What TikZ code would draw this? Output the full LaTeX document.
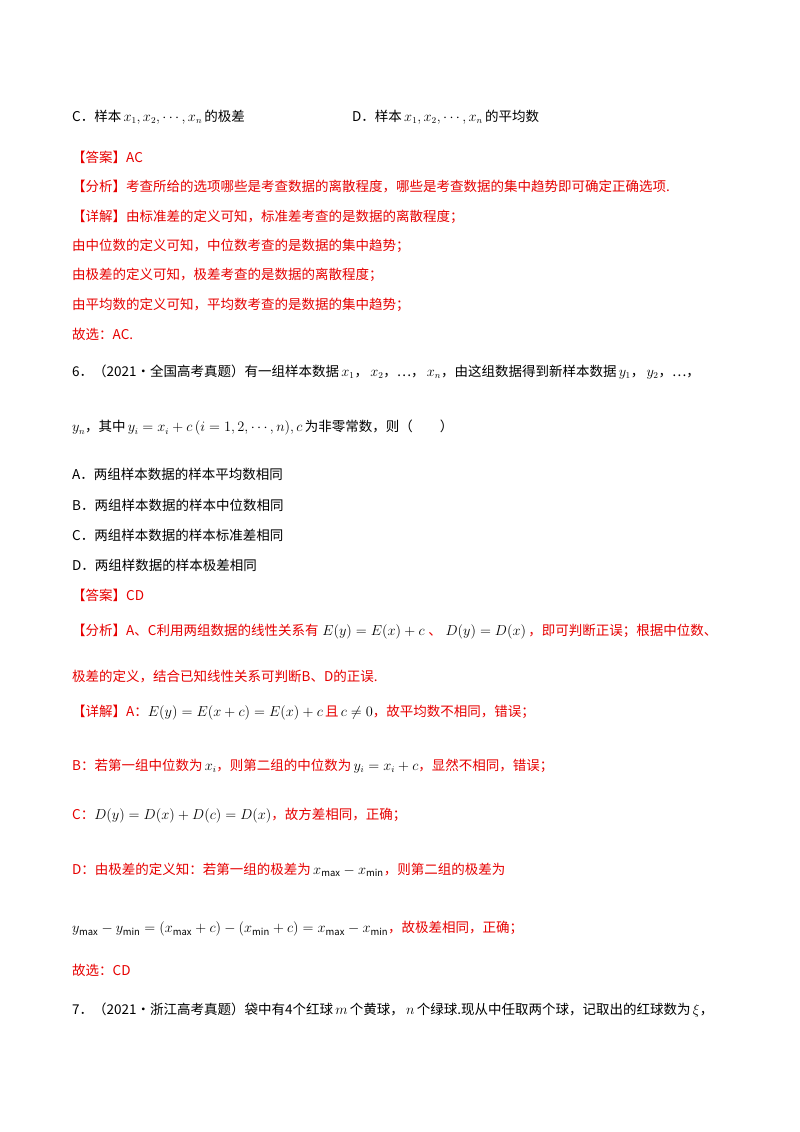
\documentclass[tikz,border=0pt]{standalone}
\usepackage{fontspec}
\setmainfont{Noto Sans CJK SC}
\definecolor{ansred}{RGB}{230,0,0}
\begin{document}
\begin{tikzpicture}[x=1pt,y=-1pt,
  ln/.style={anchor=west,inner sep=0pt,font=\fontsize{13.5}{16}\selectfont},
  rl/.style={ln,text=ansred}]
\useasboundingbox (0,0) rectangle (800,1132);
\node[ln] (c) at (72,117) {C．样本\,$x_1,x_2,\cdots,x_n$\,的极差};
\node[ln] (d) at (352,117) {D．样本\,$x_1,x_2,\cdots,x_n$\,的平均数};
\node[rl] (l1) at (72,157) {【答案】AC};
\node[rl] (l2) at (72,187) {【分析】考查所给的选项哪些是考查数据的离散程度，哪些是考查数据的集中趋势即可确定正确选项.};
\node[rl] (l3) at (72,217) {【详解】由标准差的定义可知，标准差考查的是数据的离散程度；};
\node[rl] (l4) at (72,246) {由中位数的定义可知，中位数考查的是数据的集中趋势；};
\node[rl] (l5) at (72,275) {由极差的定义可知，极差考查的是数据的离散程度；};
\node[rl] (l6) at (72,305) {由平均数的定义可知，平均数考查的是数据的集中趋势；};
\node[rl] (l7) at (72,334) {故选：AC.};
\node[ln] (q1) at (72,372) {6．（2021·全国高考真题）有一组样本数据\,$x_1$，\,$x_2$，…，\,$x_n$，由这组数据得到新样本数据\,$y_1$，\,$y_2$，…，};
\node[ln] (q2) at (72,428) {$y_n$，其中\,$y_i=x_i+c$\,$(i=1,2,\cdots,n),c$\,为非零常数，则（\hspace{2em}）};
\node[ln] (qa) at (72,474) {A．两组样本数据的样本平均数相同};
\node[ln] (qb) at (72,505) {B．两组样本数据的样本中位数相同};
\node[ln] (qc) at (72,535) {C．两组样本数据的样本标准差相同};
\node[ln] (qd) at (72,565) {D．两组样数据的样本极差相同};
\node[rl] (r1) at (72,595) {【答案】CD};
\node[rl] (r2) at (72,632) {【分析】A、C利用两组数据的线性关系有\;{\color{black}$E(y)=E(x)+c$}\;、\;{\color{black}$D(y)=D(x)$}\,，即可判断正误；根据中位数、};
\node[rl] (r3) at (72,676) {极差的定义，结合已知线性关系可判断B、D的正误.};
\node[rl] (r4) at (72,713) {【详解】A：{\color{black}$E(y)=E(x+c)=E(x)+c$}\,且\,{\color{black}$c\neq0$}，故平均数不相同，错误；};
\node[rl] (r5) at (72,766) {B：若第一组中位数为\,{\color{black}$x_i$}，则第二组的中位数为\,{\color{black}$y_i=x_i+c$}，显然不相同，错误；};
\node[rl] (r6) at (72,816) {C：{\color{black}$D(y)=D(x)+D(c)=D(x)$}，故方差相同，正确；};
\node[rl] (r7) at (72,870) {D：由极差的定义知：若第一组的极差为\,{\color{black}$x_{\max}-x_{\min}$}，则第二组的极差为};
\node[rl] (r8) at (72,929) {{\color{black}$y_{\max}-y_{\min}=(x_{\max}+c)-(x_{\min}+c)=x_{\max}-x_{\min}$}，故极差相同，正确；};
\node[rl] (r9) at (72,970) {故选：CD};
\node[ln] (q7) at (72,1010) {7．（2021·浙江高考真题）袋中有4个红球\,$m$\,个黄球，\,$n$\,个绿球.现从中任取两个球，记取出的红球数为\,$\xi$，};
\end{tikzpicture}
\end{document}
